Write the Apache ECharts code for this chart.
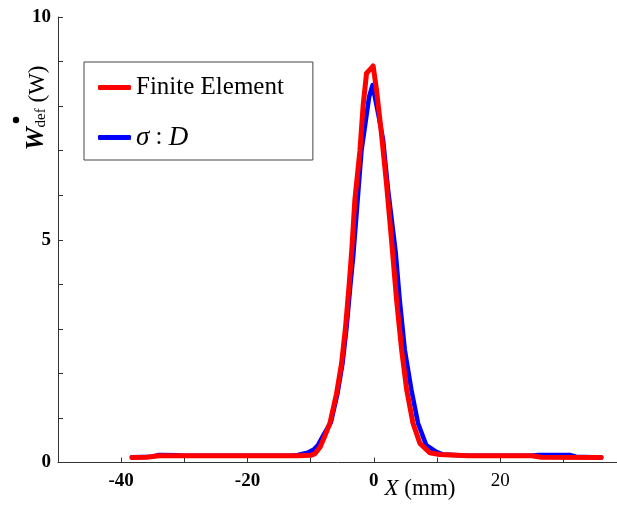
<!DOCTYPE html>
<html>
<head>
<meta charset="utf-8">
<script src="https://cdn.jsdelivr.net/npm/echarts@6/dist/echarts.min.js"></script>
<style>html,body{margin:0;padding:0;background:#fff}#c{width:617px;height:509px}</style>
</head>
<body>
<div id="c"></div>
<script>
// Finite Element (red)
var feX = [-38.3, -36, -34, -30, -20, -12, -10, -9.3, -8.5, -7.8, -6.95, -5.9, -5.1, -4.47, -3.9, -3.5, -3.0, -2.2, -1.7, -1.15, -0.6, -0.1, 0.43, 1.2, 2.0, 2.8, 3.6, 4.4, 5.2, 6.2, 7.3, 8.85, 10.4, 15, 25, 26.5, 36];
var feY = [0.11, 0.12, 0.15, 0.15, 0.15, 0.15, 0.16, 0.2, 0.35, 0.58, 0.88, 1.55, 2.23, 3.05, 4.0, 4.75, 5.9, 7.0, 8.0, 8.74, 8.82, 8.9, 8.36, 7.39, 6.27, 5.0, 3.65, 2.53, 1.63, 0.88, 0.43, 0.22, 0.18, 0.15, 0.15, 0.12, 0.11];
// sigma : D (blue)
var sdX = [-38.3, -35, -34, -31, -30, -20, -13, -12, -10.5, -9.5, -8.8, -7.8, -6.8, -5.75, -4.95, -4.3, -3.7, -3.27, -1.95, -0.95, -0.74, -0.2, 0.68, 1.47, 2.26, 3.45, 4.1, 4.9, 5.95, 7.0, 8.3, 9.9, 11, 15, 25, 26, 31, 32, 36];
var sdY = [0.12, 0.13, 0.17, 0.16, 0.15, 0.15, 0.15, 0.17, 0.22, 0.29, 0.4, 0.66, 0.9, 1.55, 2.23, 3.05, 4.0, 4.62, 7.0, 8.0, 8.21, 8.47, 7.84, 7.24, 6.12, 4.73, 3.65, 2.53, 1.63, 0.88, 0.39, 0.24, 0.18, 0.15, 0.15, 0.17, 0.17, 0.13, 0.11];
var seriesNames = ['Finite Element', 'σ : D'];
var xLabels = [-40, -20, 0, 20];
var yLabels = [0, 5, 10];

function pairs(xs, ys) { return xs.map(function (x, i) { return [x, ys[i]]; }); }

var chart = echarts.init(document.getElementById('c'), null, { renderer: 'canvas' });
var serif = 'Liberation Serif';
chart.setOption({
  animation: false,
  backgroundColor: '#fff',
  grid: { left: 58, right: 0, top: 17, bottom: 46.5, containLabel: false },
  xAxis: {
    type: 'value', min: -50, max: 38.5, interval: 10,
    axisLine: { show: true, onZero: false, lineStyle: { color: '#333', width: 1 } },
    axisTick: { show: true, inside: true, length: 5, lineStyle: { color: '#333' } },
    splitLine: { show: false },
    axisLabel: {
      margin: 9, fontFamily: serif, fontSize: 19, fontWeight: 'bold', color: '#000',
      showMaxLabel: false,
      formatter: function (v) {
        if (xLabels.indexOf(v) < 0) return '';
        if (v === 20) return '{n|20}';
        return String(v);
      },
      rich: { n: { fontFamily: serif, fontSize: 19, fontWeight: 'normal', color: '#000' } }
    }
  },
  yAxis: {
    type: 'value', min: 0, max: 10, interval: 1,
    axisLine: { show: true, onZero: false, lineStyle: { color: '#333', width: 1 } },
    axisTick: { show: true, inside: true, length: 5, lineStyle: { color: '#333' } },
    splitLine: { show: false },
    axisLabel: {
      margin: 7, fontFamily: serif, fontSize: 19, fontWeight: 'bold', color: '#000',
      formatter: function (v) { return yLabels.indexOf(v) >= 0 ? String(v) : ''; }
    }
  },
  legend: {
    orient: 'vertical', left: 84, top: 62,
    data: [seriesNames[0], seriesNames[1]],
    icon: 'roundRect', itemWidth: 33, itemHeight: 5, itemGap: 24,
    padding: [13, 29, 9, 14],
    borderColor: '#444', borderWidth: 1, backgroundColor: '#fff',
    textStyle: {
      fontFamily: serif, fontSize: 25, color: '#000',
      rich: {
        i: { fontFamily: serif, fontSize: 27, fontStyle: 'italic', color: '#000' },
        n: { fontFamily: serif, fontSize: 25, color: '#000' }
      }
    },
    formatter: function (name) {
      if (name === seriesNames[1]) return '{i|σ}{n| : }{i|D}';
      return name;
    }
  },
  graphic: [
    {
      type: 'text', x: 36, y: 108, rotation: Math.PI / 2,
      style: {
        text: '{w|W}{s|def}{p| (W)}',
        align: 'center', verticalAlign: 'middle',
        rich: {
          w: { fontFamily: serif, fontSize: 26, fontStyle: 'italic', fontWeight: 'bold', fill: '#000', verticalAlign: 'bottom' },
          s: { fontFamily: serif, fontSize: 15, fill: '#000', padding: [10, 0, 0, 0], verticalAlign: 'bottom' },
          p: { fontFamily: serif, fontSize: 23, fill: '#000', verticalAlign: 'bottom' }
        }
      }
    },
    { type: 'circle', shape: { cx: 16, cy: 120, r: 3.2 }, style: { fill: '#000' } },
    {
      type: 'text', x: 420, y: 489,
      style: {
        text: '{i|X}{r| (mm)}', align: 'center', verticalAlign: 'middle',
        rich: {
          i: { fontFamily: serif, fontSize: 23, fontStyle: 'italic', fill: '#000' },
          r: { fontFamily: serif, fontSize: 23, fill: '#000' }
        }
      }
    }
  ],
  series: [
    {
      name: seriesNames[1], type: 'line', data: pairs(sdX, sdY),
      showSymbol: false, symbol: 'none', color: '#0000ff',
      lineStyle: { color: '#0000ff', width: 4.5, cap: 'round', join: 'round' }, z: 2
    },
    {
      name: seriesNames[0], type: 'line', data: pairs(feX, feY),
      showSymbol: false, symbol: 'none', color: '#ff0000',
      lineStyle: { color: '#ff0000', width: 5, cap: 'round', join: 'round' }, z: 3
    }
  ]
});
</script>
</body>
</html>
